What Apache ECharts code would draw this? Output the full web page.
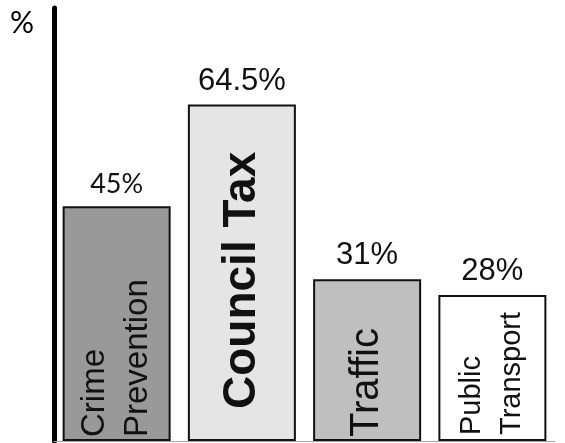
<!DOCTYPE html>
<html>
<head>
<meta charset="utf-8">
<script src="https://cdn.jsdelivr.net/npm/echarts@6/dist/echarts.min.js"></script>
<style>
html,body{margin:0;padding:0;background:#fff;}
#chart{width:565px;height:443px;}
</style>
</head>
<body>
<div id="chart"></div>
<script>
// ---- data ----
const categories = ['Crime\nPrevention', 'Council Tax', 'Traffic', 'Public\nTransport'];
const values = [45, 64.5, 31, 28];
const valueLabels = ['45%', '64.5%', '31%', '28%'];
const axisUnit = '%';

// ---- styles ----
const barColors = ['#999999', '#e5e5e5', '#bfbfbf', '#ffffff'];
const insideLabelStyles = [
  { fontSize: 33, lineHeight: 43, distance: 4 },
  { fontSize: 46, fontWeight: 'bold', lineHeight: 50, distance: 32 },
  { fontSize: 40, lineHeight: 44, distance: 4 },
  { fontSize: 29, lineHeight: 40, distance: 6 }
];
const topLabelStyles = [
  { fontFamily: 'Lato', fontSize: 27 },
  { fontFamily: 'Liberation Sans', fontSize: 31 },
  { fontFamily: 'Liberation Sans', fontSize: 31 },
  { fontFamily: 'Liberation Sans', fontSize: 31 }
];

const chart = echarts.init(document.getElementById('chart'), null, { renderer: 'canvas' });

const option = {
  animation: false,
  backgroundColor: '#ffffff',
  title: {
    text: axisUnit,
    left: 5,
    top: 3,
    textStyle: { fontFamily: 'Lato', fontSize: 30, fontWeight: 'normal', color: '#000' }
  },
  grid: { left: 54, right: 10, top: 8, bottom: 2 },
  xAxis: {
    type: 'category',
    data: categories,
    axisLine: { show: true, lineStyle: { color: '#a8a8a8', width: 1 } },
    axisTick: { show: false },
    axisLabel: { show: false },
    splitLine: { show: false }
  },
  yAxis: {
    type: 'value',
    min: 0,
    max: 83,
    axisLine: { show: true, lineStyle: { color: '#000', width: 5 } },
    axisTick: { show: false },
    axisLabel: { show: false },
    splitLine: { show: false }
  },
  series: [
    {
      type: 'bar',
      barWidth: 108,
      barGap: '-100%',
      data: values.map((v, i) => ({
        value: v,
        itemStyle: { color: barColors[i] },
        label: insideLabelStyles[i]
      })),
      itemStyle: { borderColor: '#111', borderWidth: 2 },
      label: {
        show: true,
        position: 'insideBottom',
        rotate: 90,
        align: 'left',
        verticalAlign: 'middle',
        fontFamily: 'Liberation Sans',
        color: '#111',
        formatter: p => categories[p.dataIndex]
      }
    },
    {
      type: 'bar',
      barWidth: 108,
      barGap: '-100%',
      silent: true,
      z: 3,
      itemStyle: { color: 'transparent', borderWidth: 0 },
      data: values.map((v, i) => ({
        value: v,
        label: topLabelStyles[i]
      })),
      label: {
        show: true,
        position: 'top',
        distance: 8,
        color: '#111',
        formatter: p => valueLabels[p.dataIndex]
      }
    }
  ]
};

chart.setOption(option);
</script>
</body>
</html>
